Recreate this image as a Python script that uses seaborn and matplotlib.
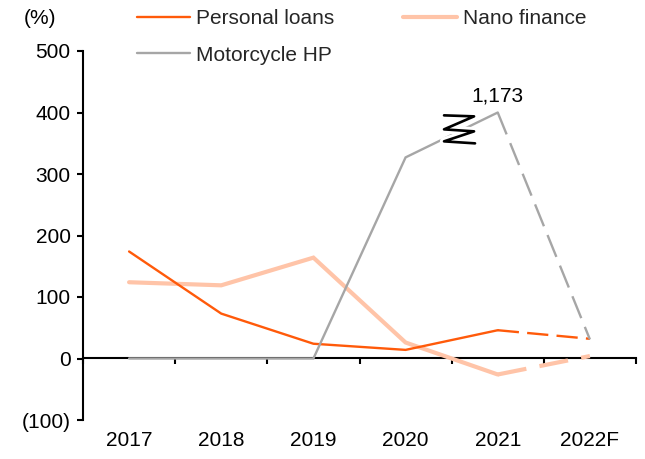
import numpy as np
import pandas as pd
import matplotlib
matplotlib.use("Agg")
import matplotlib.pyplot as plt
import matplotlib.transforms as mtransforms
from matplotlib.ticker import FuncFormatter, FixedLocator
import seaborn as sns

# ---- data ----
years = ["2017", "2018", "2019", "2020", "2021", "2022F"]
personal_loans = [174, 73, 24, 14, 46, 32]
nano_finance = [124, 119, 164, 26, -26, 4]
motorcycle_hp = [0, 0, 0, 327, 400, 31]   # 2021 value drawn capped at 400 (axis break)
motorcycle_2021_label = "1,173"
yticks = [-100, 0, 100, 200, 300, 400, 500]

sns.set_theme(style="white")
plt.rcParams["font.family"] = ["Liberation Sans", "DejaVu Sans"]
FS = 15
plt.rcParams["font.size"] = FS

fig = plt.figure(figsize=(6.45, 4.59), dpi=100)
ax = fig.add_axes([83 / 645, 1 - 420 / 459, (636 - 83) / 645, (420 - 51) / 459])

x = np.arange(len(years))
c_pl = "#FF5A0A"
c_nf = "#FFC4A8"
c_mc = "#A6A6A6"

series = [
    ("Personal loans", personal_loans, c_pl, 1.7, (0, (9, 3.5))),
    ("Nano finance", nano_finance, c_nf, 3.0, (0, (7, 3.2))),
    ("Motorcycle HP", motorcycle_hp, c_mc, 1.7, (0, (10, 4))),
]

handles = {}
for name, vals, col, lw, dash in series:
    df = pd.DataFrame({"x": x, "y": vals})
    solid = df.iloc[:5]
    fc = df.iloc[4:]
    z = 2 if name == "Nano finance" else 3
    sns.lineplot(data=solid, x="x", y="y", ax=ax, color=col, linewidth=lw,
                 solid_joinstyle="miter", zorder=z)
    sns.lineplot(data=fc, x="x", y="y", ax=ax, color=col, linewidth=lw,
                 linestyle=dash, zorder=z)
    handles[name] = plt.Line2D([], [], color=col, linewidth=lw)

ax.set_xlim(-0.5, 5.5)
ax.set_ylim(-100, 500)

# y axis
ax.yaxis.set_major_locator(FixedLocator(yticks))
ax.yaxis.set_major_formatter(FuncFormatter(lambda v, p: f"({abs(int(v))})" if v < 0 else f"{int(v)}"))
ax.tick_params(axis="y", direction="out", length=4, width=1.5, color="black", pad=5,
               labelsize=FS, labelcolor="black", left=True)

# x labels at bottom, no ticks
ax.set_xticks(x)
ax.set_xticklabels(years)
ax.tick_params(axis="x", length=0, pad=8, labelsize=FS, labelcolor="black")
ax.set_xlabel("")
ax.set_ylabel("")

for s in ["top", "right", "bottom"]:
    ax.spines[s].set_visible(False)
ax.spines["left"].set_color("black")
ax.spines["left"].set_linewidth(1.5)

# zero line with boundary tick marks
sec = ax.secondary_xaxis(0, transform=ax.transData)
sec.set_xticks(np.arange(-0.5, 6.0, 1.0))
sec.set_xticklabels([])
sec.tick_params(axis="x", direction="out", length=4, width=1.5, color="black")
sec.spines["bottom"].set_color("black")
sec.spines["bottom"].set_linewidth(1.5)

# axis break symbol on the motorcycle line
xa = 3.58
ya = motorcycle_hp[3] + (xa - 3) * (motorcycle_hp[4] - motorcycle_hp[3])
zx = np.array([-15, 15, -15, 15, -15, 16]) * 72 / 100
zy = np.array([14, 13, 0, -2, -12, -14]) * 72 / 100
fig.canvas.draw()
ax_disp = ax.transData.transform((xa, ya))
ztrans = mtransforms.Affine2D().scale(fig.dpi / 72).translate(ax_disp[0], ax_disp[1] + 2)
ax.add_line(plt.Line2D(zx, zy, color="white", linewidth=6, transform=ztrans, zorder=5))
ax.add_line(plt.Line2D(zx, zy, color="black", linewidth=1.9, transform=ztrans, zorder=6,
                       solid_joinstyle="round"))

ax.annotate(motorcycle_2021_label, xy=(4, motorcycle_hp[4]), xytext=(0, 5),
            textcoords="offset points", ha="center", va="bottom", fontsize=FS, color="black")

# legend
order = ["Personal loans", "Motorcycle HP", "Nano finance"]
fig.legend([handles[n] for n in order], order, ncol=2, loc="upper left",
           bbox_to_anchor=(137 / 645, 1 - 9 / 459), frameon=False, fontsize=FS,
           handlelength=2.55, handletextpad=0.3, columnspacing=3.3, labelspacing=0.85,
           borderpad=0, borderaxespad=0)

fig.text(40 / 645, 1 - 18 / 459, "(%)", ha="center", va="center", fontsize=FS, color="black")

fig.savefig("out.png", dpi=100)
